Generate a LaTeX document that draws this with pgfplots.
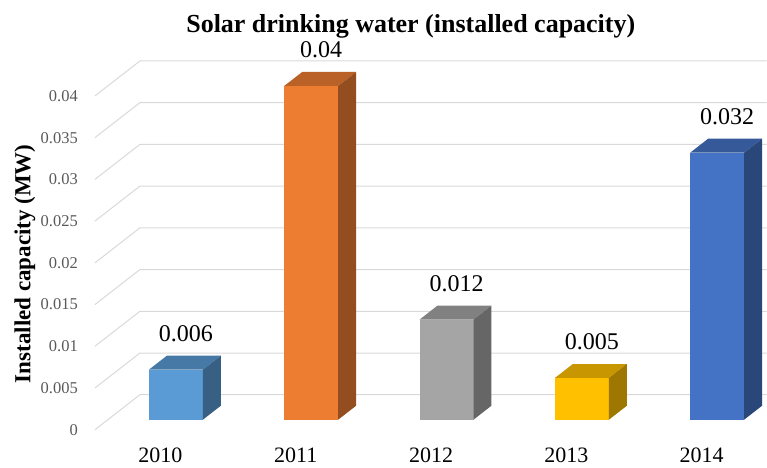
\documentclass[border=0pt]{standalone}
\usepackage{fontspec}
\setmainfont{Liberation Serif}
\usepackage{pgfplots}
\usepackage{pgfplotstable}
\pgfplotsset{compat=1.18}

\definecolor{gridgray}{HTML}{D9D9D9}
\definecolor{ticktext}{HTML}{595959}
\definecolor{front0}{HTML}{5B9BD5}
\definecolor{front1}{HTML}{ED7D31}
\definecolor{front2}{HTML}{A5A5A5}
\definecolor{front3}{HTML}{FFC000}
\definecolor{front4}{HTML}{4472C4}

% geometry of the 3-D columns (in pt)
\def\halfw{27}   % half of the front face width
\def\depthx{18}  % depth offset, horizontal
\def\depthy{14}  % depth offset, vertical
\def\yunit{8350} % pt per MW on the front plane

% top face of a column, drawn at the top centre of its front face
\pgfdeclareplotmark{coltop}{%
  \pgfpathmoveto{\pgfpoint{-\halfw pt}{0pt}}%
  \pgfpathlineto{\pgfpoint{\halfw pt}{0pt}}%
  \pgfpathlineto{\pgfpoint{\halfw pt+\depthx pt}{\depthy pt}}%
  \pgfpathlineto{\pgfpoint{-\halfw pt+\depthx pt}{\depthy pt}}%
  \pgfpathclose
  \pgfusepathqfill}
% right side face of a column; its height comes from the value
\pgfdeclareplotmark{colside}{%
  \pgfmathsetmacro\colh{\colval*\yunit}%
  \pgfpathmoveto{\pgfpoint{\halfw pt}{0pt}}%
  \pgfpathlineto{\pgfpoint{\halfw pt+\depthx pt}{\depthy pt}}%
  \pgfpathlineto{\pgfpoint{\halfw pt+\depthx pt}{\depthy pt-\colh pt}}%
  \pgfpathlineto{\pgfpoint{\halfw pt}{-\colh pt}}%
  \pgfpathclose
  \pgfusepathqfill}

\pgfplotstableread{
idx year value
0 2010 0.006
1 2011 0.040
2 2012 0.012
3 2013 0.005
4 2014 0.032
}\solartable

\begin{document}
\begin{tikzpicture}
\begin{axis}[
  width=767pt, height=468pt, scale only axis,
  xmin=-1.2999, xmax=4.3648,
  ymin=-0.0057485, ymax=0.0502994,
  clip=false,
  axis line style={draw=none},
  tick style={draw=none},
  xtick={0,1,2,3,4},
  xticklabels={2010,2011,2012,2013,2014},
  xticklabel style={anchor=base, inner sep=0pt, xshift=-15.5pt, yshift=5pt,
    font=\fontsize{22}{24}\selectfont, text=black},
  ytick={0,0.005,0.01,0.015,0.02,0.025,0.03,0.035,0.04},
  scaled y ticks=false,
  yticklabel style={/pgf/number format/fixed, /pgf/number format/precision=3,
    /pgf/number format/assume math mode=true,
    anchor=east, inner sep=0pt, xshift=78pt, yshift=-10pt,
    font=\fontsize{16.5}{18}\selectfont, text=ticktext},
  title={Solar drinking water (installed capacity)},
  every axis title/.style={at={(axis description cs:0.5359,1)}, anchor=base,
    yshift=-33pt, font=\bfseries\fontsize{26}{30}\selectfont},
  ylabel={Installed capacity (MW)},
  every axis y label/.style={at={(axis description cs:0.0326,0.436)},
    rotate=90, anchor=center, font=\bfseries\fontsize{23}{26}\selectfont},
]
% picture frame
\path (rel axis cs:0,0) rectangle (rel axis cs:1,1);

% gridlines: side wall (diagonal) and back wall (horizontal)
\pgfplotsinvokeforeach{0,0.005,0.01,0.015,0.02,0.025,0.03,0.035,0.04}{
  \draw[gridgray, line width=1pt]
    (axis cs:-0.5982,{#1-0.0011976}) -- (axis cs:-0.2659,{#1+0.0029940})
    -- (axis cs:4.3648,{#1+0.0029940});
}

% columns: front face, top face, side face
\pgfplotsinvokeforeach{0,...,4}{
  \addplot[ybar, bar width=54pt, bar shift=0pt, fill=front#1, draw=none,
    nodes near coords,
    every node near coord/.append style={inner sep=0pt, xshift=10pt, yshift=27.5pt,
      font=\fontsize{24}{26}\selectfont, text=black,
      /pgf/number format/fixed, /pgf/number format/precision=3,
      /pgf/number format/assume math mode=true}]
    table[x=idx, y=value, restrict expr to domain={\coordindex}{#1:#1}] {\solartable};
  \addplot[only marks, mark=coltop, mark options={fill=front#1!78!black, draw=none}]
    table[x=idx, y=value, restrict expr to domain={\coordindex}{#1:#1}] {\solartable};
  \addplot[only marks, mark=colside, mark options={fill=front#1!62!black, draw=none},
    visualization depends on={\thisrow{value} \as \colval}]
    table[x=idx, y=value, restrict expr to domain={\coordindex}{#1:#1}] {\solartable};
}
\end{axis}
\end{tikzpicture}
\end{document}
